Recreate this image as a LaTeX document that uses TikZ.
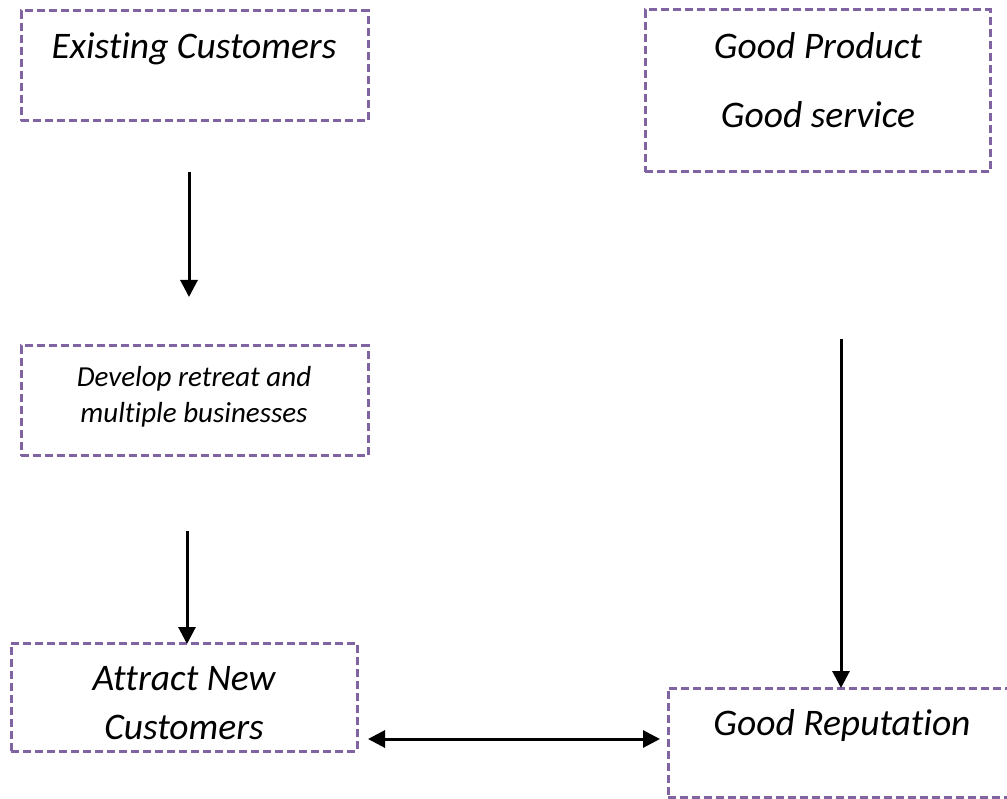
\documentclass[tikz,border=0pt]{standalone}
\usepackage{fontspec}
\setmainfont[Ligatures=NoCommon]{Carlito}
\usetikzlibrary{arrows.meta}
\definecolor{boxpurple}{HTML}{8064A2}
\begin{document}
\begin{tikzpicture}[x=1pt,y=-1pt,
  box/.style={draw=boxpurple, line width=3pt, dash pattern=on 8pt off 4pt, rectangle, inner sep=0pt},
  txt/.style={font=\itshape\fontsize{37.5}{45}\selectfont, inner sep=0pt, anchor=base},
  smalltxt/.style={font=\itshape\fontsize{29}{35}\selectfont, inner sep=0pt, anchor=base},
  arr/.style={line width=3pt, -{Triangle[width=17pt,length=17pt]}},
  darr/.style={line width=3pt, {Triangle[width=17pt,length=17pt]}-{Triangle[width=17pt,length=17pt]}}]
\useasboundingbox (0,0) rectangle (1007,799);
\clip (0,0) rectangle (1007,799);
% boxes
\node[box, minimum width=347pt, minimum height=110pt] (ec) at (194.5,66) {};
\node[box, minimum width=345pt, minimum height=162pt] (gp) at (817.5,91) {};
\node[box, minimum width=347pt, minimum height=110pt] (dr) at (194.5,401) {};
\node[box, minimum width=346pt, minimum height=108pt] (an) at (184,697) {};
\node[box, minimum width=346pt, minimum height=109pt] (gr) at (841,742.5) {};
% texts
\node[txt] (t1) at (194,59) {Existing Customers};
\node[txt] (t2) at (818,59) {Good Product};
\node[txt] (t3) at (818,128) {Good service};
\node[smalltxt] (t4) at (194,387) {Develop retreat and};
\node[smalltxt] (t5) at (194,423) {multiple businesses};
\node[txt] (t6) at (184,690) {Attract New};
\node[txt] (t7) at (184,739) {Customers};
\node[txt] (t8) at (842,735) {Good Reputation};
% arrow ends
\coordinate (a1s) at (189,172);
\coordinate (a1e) at (189,297);
\coordinate (a2s) at (187,531);
\coordinate (a2e) at (187,644);
\coordinate (a3s) at (841,339);
\coordinate (a3e) at (841,688);
\coordinate (a4s) at (368,739);
\coordinate (a4e) at (660,739);
\draw[arr] (a1s) -- (a1e);
\draw[arr] (a2s) -- (a2e);
\draw[arr] (a3s) -- (a3e);
\draw[darr] (a4s) -- (a4e);
\end{tikzpicture}
\end{document}
